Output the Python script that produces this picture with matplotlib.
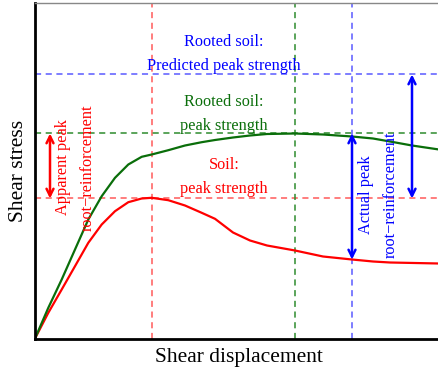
import matplotlib
matplotlib.use("Agg")
import matplotlib.pyplot as plt

plt.rcParams['font.family'] = ['Liberation Serif', 'DejaVu Serif']

# Curve data (arbitrary units: displacement, stress)
soil_x = [0, 13.3, 26.7, 40, 53.3, 66.7, 80, 93.3, 106.7, 116.7, 133.3, 150, 166.7, 180,
          198, 215, 232, 260, 288, 317, 338, 355, 404]
soil_y = [0, 25.7, 49, 72.3, 95.7, 114, 127.3, 136.3, 140, 140.7, 138.3, 133, 125.7, 119.7,
          106, 98, 93, 88, 82, 79, 77, 76, 75]

rooted_x = [0, 13.3, 26.7, 40, 53.3, 66.7, 80, 93.3, 106.7, 116.7, 133.3, 150, 166.7, 180,
            198, 215, 232, 260, 288, 317, 338, 355, 377, 404]
rooted_y = [0, 30.7, 59, 89, 119, 142.3, 160.7, 174, 181.7, 184, 188.3, 193, 196.3, 198.5,
            201, 203, 204.5, 205, 204, 202, 200, 197, 193, 189]

# Reference levels
soil_peak_x, soil_peak_y = 117, 140
rooted_peak_x, rooted_peak_y = 260, 205
predicted_y = 264
actual_x = 317
actual_low = 79
apparent_arrow_x = 15
predicted_arrow_x = 377

W, H = 439, 371
fig = plt.figure(figsize=(W / 100, H / 100), dpi=100)
ax = fig.add_axes([35 / W, 1 - 338.5 / H, (439 - 35) / W + 0.01, (338.5 - 3) / H])
ax.set_xlim(0, 404 * (1 + 0.01 * W / 404))
ax.set_ylim(0, 335.5)

dash = (0, (4, 3))
ax.axvline(soil_peak_x, color='#ff5a5a', lw=1.1, ls=dash)
ax.axhline(soil_peak_y, color='#ff5a5a', lw=1.1, ls=dash)
ax.axvline(rooted_peak_x, color='#2e8b2e', lw=1.1, ls=dash)
ax.axhline(rooted_peak_y, color='#2e8b2e', lw=1.1, ls=dash)
ax.axvline(actual_x, color='#5a5aff', lw=1.1, ls=dash)
ax.axhline(predicted_y, color='#5a5aff', lw=1.1, ls=dash)

ax.plot(soil_x, soil_y, color='red', lw=1.6, solid_joinstyle='round')
ax.plot(rooted_x, rooted_y, color='#0a6e0a', lw=1.6, solid_joinstyle='round')

astyle = '<->,head_length=0.5,head_width=0.25'
ax.annotate('', xy=(apparent_arrow_x, rooted_peak_y), xytext=(apparent_arrow_x, soil_peak_y),
            arrowprops=dict(arrowstyle=astyle, color='red', lw=1.8, shrinkA=0, shrinkB=0))
ax.annotate('', xy=(actual_x, rooted_peak_y), xytext=(actual_x, actual_low),
            arrowprops=dict(arrowstyle=astyle, color='blue', lw=1.8, shrinkA=0, shrinkB=0))
ax.annotate('', xy=(predicted_arrow_x, predicted_y), xytext=(predicted_arrow_x, soil_peak_y),
            arrowprops=dict(arrowstyle=astyle, color='blue', lw=1.8, shrinkA=0, shrinkB=0))

fs = 11.7
ax.text(189, 284.5, 'Rooted soil:\nPredicted peak strength', color='blue', ha='center', va='center',
        fontsize=fs, linespacing=1.6)
ax.text(189, 224.5, 'Rooted soil:\npeak strength', color='#0a6e0a', ha='center', va='center',
        fontsize=fs, linespacing=1.6)
ax.text(189, 161.5, 'Soil:\npeak strength', color='red', ha='center', va='center',
        fontsize=fs, linespacing=1.6)
ax.text(40, 171, 'Apparent peak\nroot\u2212reinforcement', color='red', ha='center', va='center',
        rotation=90, fontsize=fs, linespacing=1.7)
ax.text(343.5, 144, 'Actual peak\nroot\u2212reinforcement', color='blue', ha='center', va='center',
        rotation=90, fontsize=fs, linespacing=1.75)

ax.set_xticks([])
ax.set_yticks([])
ax.set_xlabel('Shear displacement', fontsize=15.5, labelpad=7)
ax.set_ylabel('Shear stress', fontsize=15.5, labelpad=5)
for s in ['left', 'bottom']:
    ax.spines[s].set_linewidth(2)
    ax.spines[s].set_color('black')
ax.spines['top'].set_color('#888888')
ax.spines['top'].set_linewidth(1)
ax.spines['right'].set_visible(False)

fig.savefig('out.png', dpi=100)
